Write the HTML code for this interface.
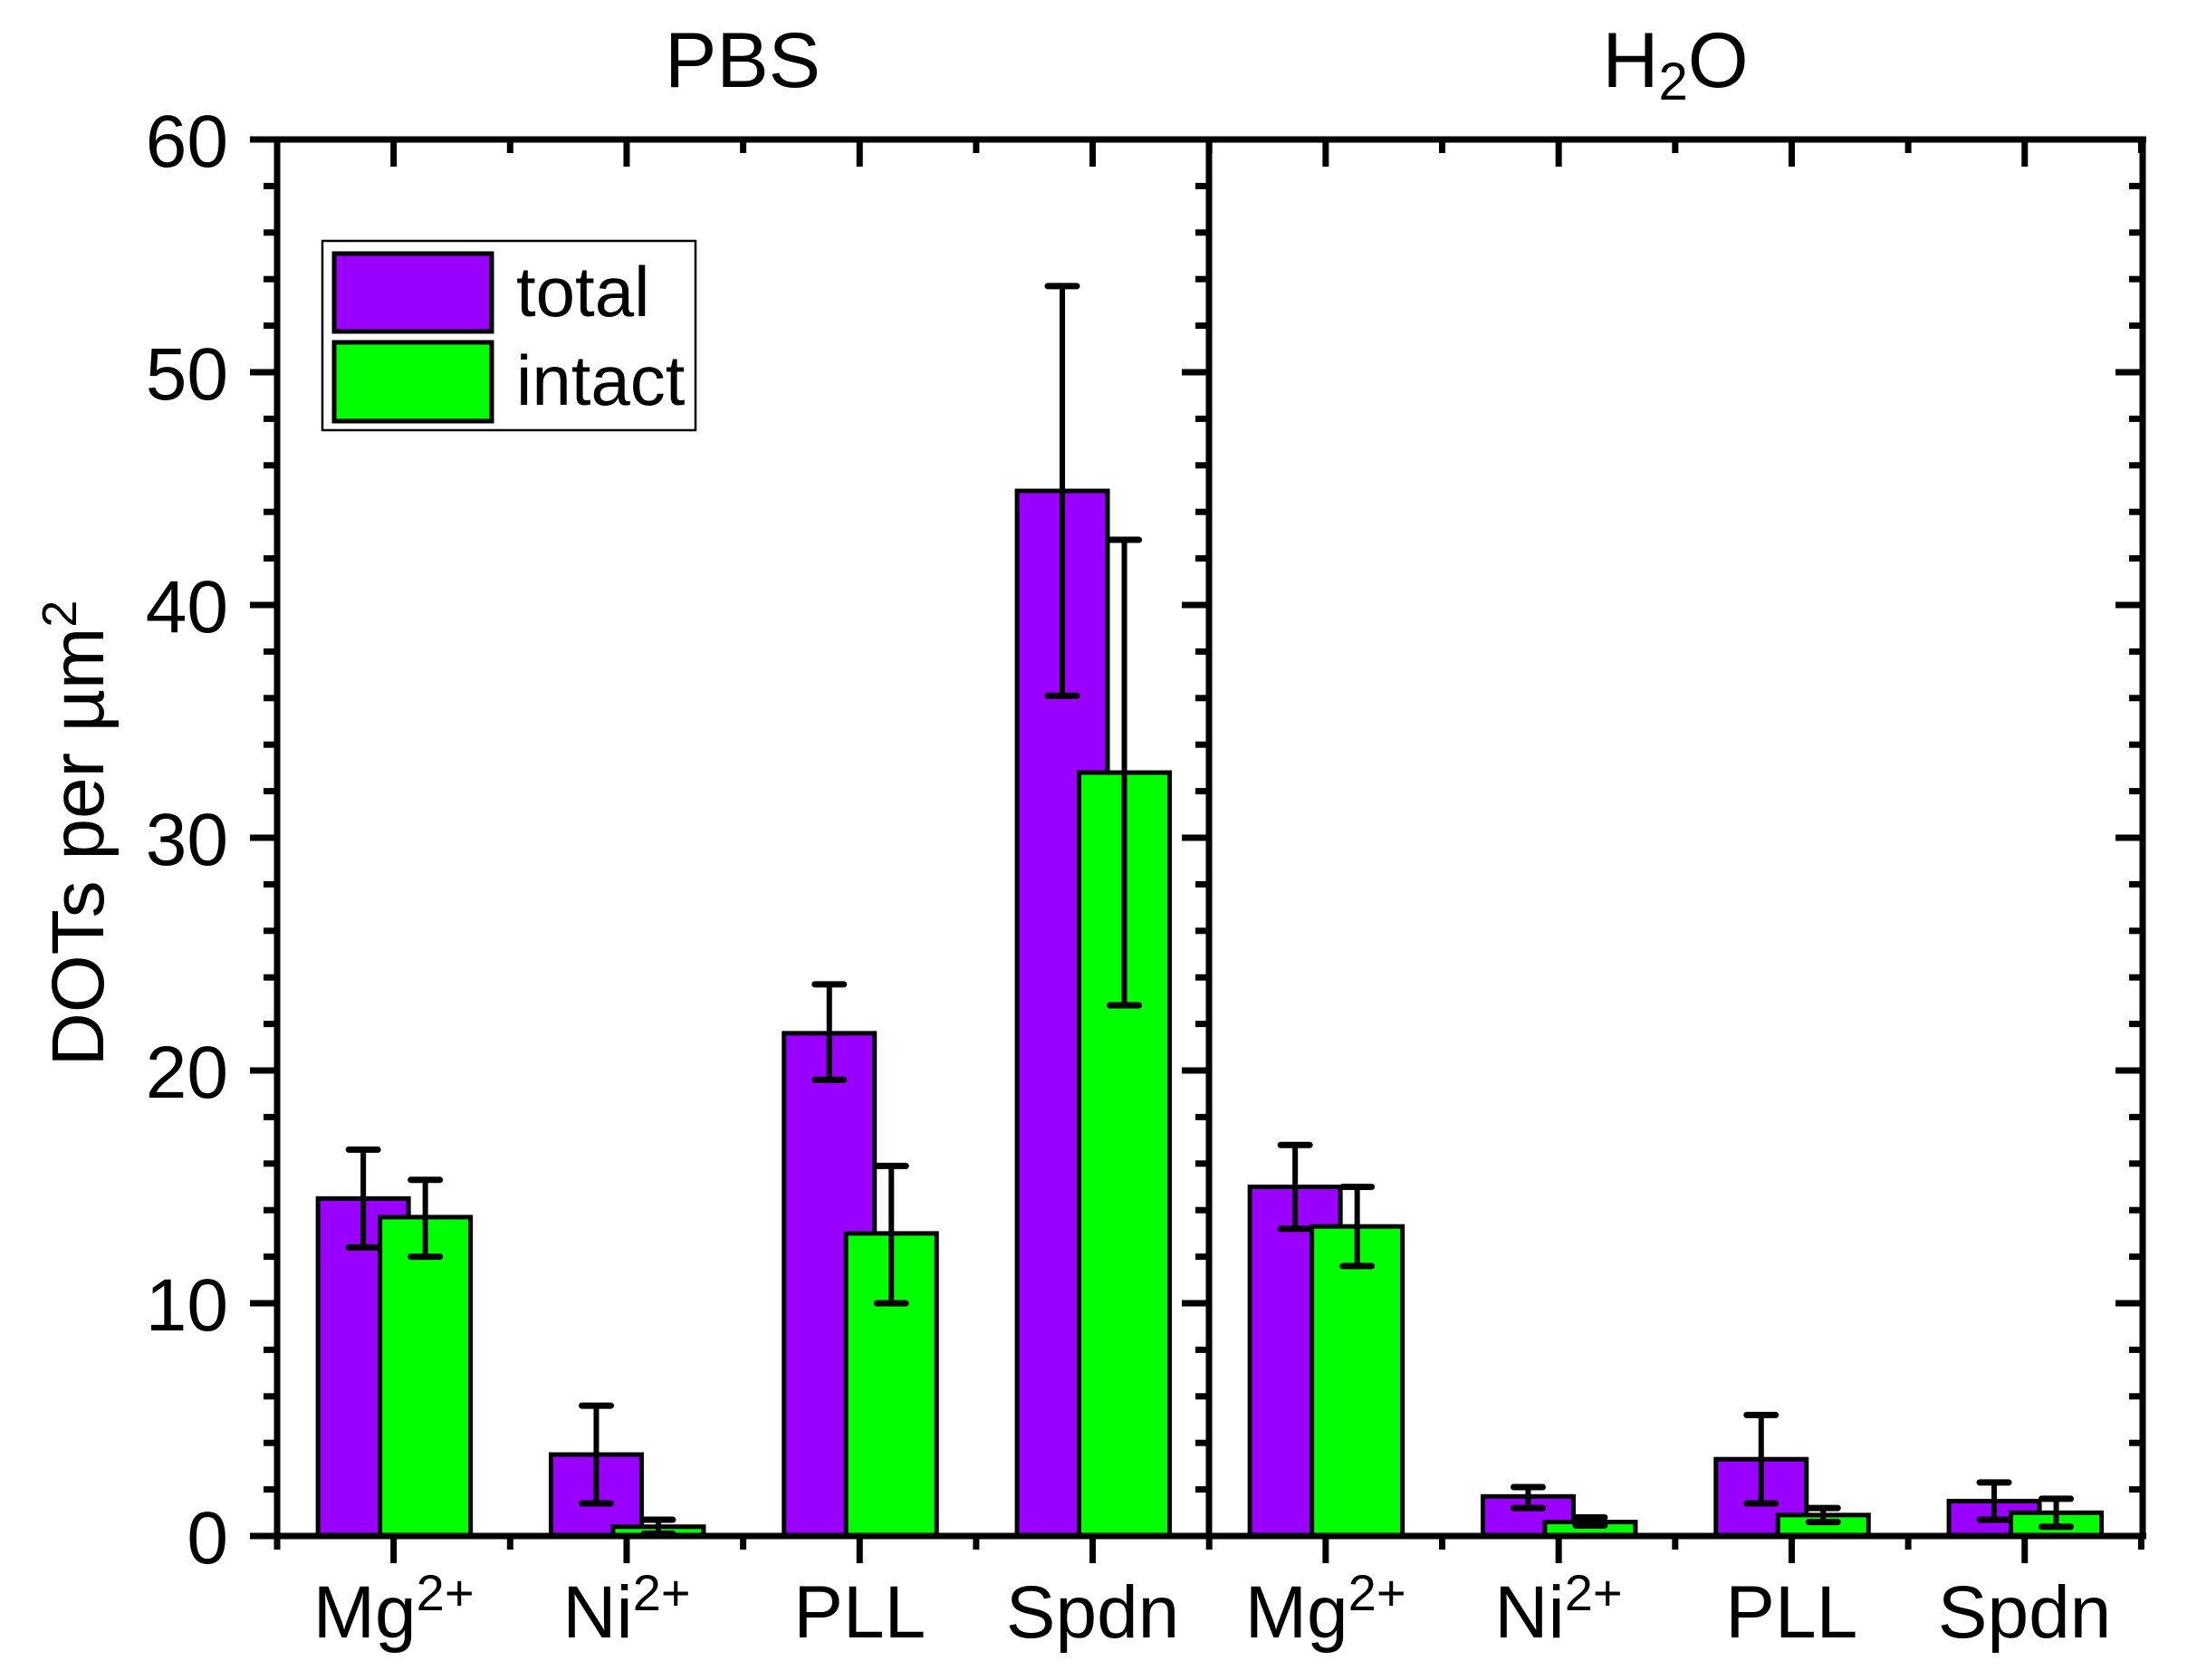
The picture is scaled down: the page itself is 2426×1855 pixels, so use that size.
<!DOCTYPE html>
<html><head><meta charset="utf-8"><style>html,body{margin:0;padding:0;background:#fff}svg{display:block}</style></head>
<body>
<svg id="s" xmlns="http://www.w3.org/2000/svg" width="2426" height="1855" viewBox="0 0 2426 1855" font-family="Liberation Sans, Arial, sans-serif">
<rect width="2426" height="1855" fill="#fff"/>
<g id="g"></g>
<text x="820" y="96" font-size="86" text-anchor="middle">PBS</text>
<text x="1850" y="96" font-size="86" text-anchor="middle">H<tspan font-size="58" dy="14">2</tspan><tspan dy="-14">O</tspan></text>
<text transform="translate(114,920) rotate(-90)" font-size="82" text-anchor="middle">DOTs per µm<tspan font-size="54" dy="-30">2</tspan></text>
<rect x="356" y="266" width="412" height="209" fill="#fff" stroke="#000" stroke-width="2.5"/>
<rect x="369" y="280" width="174" height="86" fill="#9900ff" stroke="#000" stroke-width="5"/>
<rect x="369" y="378" width="174" height="87" fill="#00ff00" stroke="#000" stroke-width="5"/>
<text x="570" y="349" font-size="78">total</text>
<text x="570" y="447" font-size="78">intact</text>
</svg>
<script>
(function(){
var g=document.getElementById('g'),h='';
function Y(v){return 1696-25.7*v;}
var L=306,M=1335,R=2366,T=154,B=1696,S=257.3;
var d=[[14.5,12.4,16.6,13.7,12.0,15.3],[3.5,1.4,5.6,0.4,0.1,0.7],[21.6,19.6,23.7,13.0,10.0,15.9],[44.9,36.1,53.7,32.8,22.8,42.8],
[15.0,13.2,16.8,13.3,11.6,15.0],[1.7,1.2,2.1,0.6,0.45,0.8],[3.3,1.4,5.2,0.9,0.6,1.2],[1.5,0.7,2.3,1.0,0.4,1.6]];
var labs=['Mg<tspan font-size="56" dy="-30">2+</tspan>','Ni<tspan font-size="56" dy="-30">2+</tspan>','PLL','Spdn'];
for(var i=0;i<8;i++){
 var c=(i<4?L:M)+S*(i%4+0.5);
 var r=d[i];
 [[c-33.5,r[0],r[1],r[2],'#9900ff'],[c+35,r[3],r[4],r[5],'#00ff00']].forEach(function(b){
  var x=b[0];
  h+='<rect x="'+(x-50)+'" y="'+Y(b[1])+'" width="100" height="'+(B-Y(b[1]))+'" fill="'+b[4]+'" stroke="#000" stroke-width="5"/>';
  h+='<line x1="'+x+'" y1="'+Y(b[2])+'" x2="'+x+'" y2="'+Y(b[3])+'" stroke="#000" stroke-width="6"/>';
  h+='<line x1="'+(x-16)+'" y1="'+Y(b[2])+'" x2="'+(x+16)+'" y2="'+Y(b[2])+'" stroke="#000" stroke-width="7" stroke-linecap="round"/>';
  h+='<line x1="'+(x-16)+'" y1="'+Y(b[3])+'" x2="'+(x+16)+'" y2="'+Y(b[3])+'" stroke="#000" stroke-width="7" stroke-linecap="round"/>';
 });
 h+='<text x="'+c+'" y="1808" font-size="82" text-anchor="middle">'+labs[i%4]+'</text>';
}
for(var v=0;v<=60;v+=2){
 var y=Y(v),maj=(v%10==0),len=maj?30:15;
 h+='<line x1="'+(L-len)+'" y1="'+y+'" x2="'+L+'" y2="'+y+'" stroke="#000" stroke-width="7"/>';
 h+='<line x1="'+(M-len)+'" y1="'+y+'" x2="'+M+'" y2="'+y+'" stroke="#000" stroke-width="7"/>';
 h+='<line x1="'+(R-len)+'" y1="'+y+'" x2="'+R+'" y2="'+y+'" stroke="#000" stroke-width="7"/>';
 if(maj)h+='<text x="252" y="'+(y+30)+'" font-size="82" text-anchor="end">'+v+'</text>';
}
for(var k=0;k<=16;k++){
 var x=L+S*k/2,maj=(k%2==1),len=maj?30:15;
 h+='<line x1="'+x+'" y1="'+T+'" x2="'+x+'" y2="'+(T+len)+'" stroke="#000" stroke-width="7"/>';
 h+='<line x1="'+x+'" y1="'+B+'" x2="'+x+'" y2="'+(B+len)+'" stroke="#000" stroke-width="7"/>';
}
h+='<line x1="276" y1="'+T+'" x2="'+(R+4)+'" y2="'+T+'" stroke="#000" stroke-width="7"/>';
h+='<line x1="276" y1="'+B+'" x2="'+(R+4)+'" y2="'+B+'" stroke="#000" stroke-width="7"/>';
[L,M,R].forEach(function(x){h+='<line x1="'+x+'" y1="'+(T-3)+'" x2="'+x+'" y2="'+(B+3)+'" stroke="#000" stroke-width="7"/>';});
g.innerHTML=h;
})();
</script>
</body></html>
